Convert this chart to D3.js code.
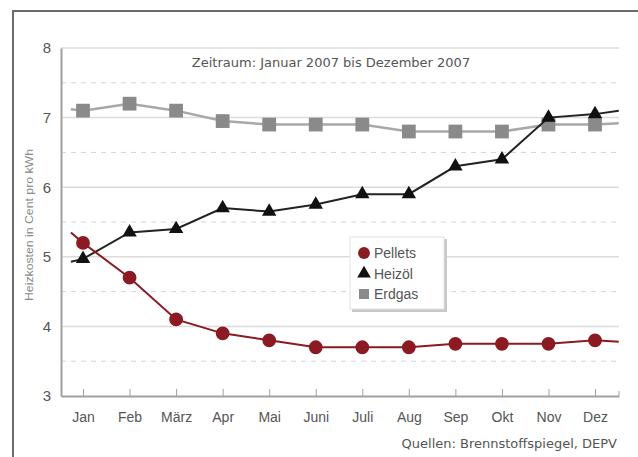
<!DOCTYPE html>
<html>
<head>
<meta charset="utf-8">
<script src="https://cdn.jsdelivr.net/npm/d3@7"></script>
<style>
  body { margin: 0; background: #fff; }
  svg { display: block; }
</style>
</head>
<body>
<div id="chart"></div>
<script>
// data (Cent pro kWh)
const months = ['Jan', 'Feb', 'März', 'Apr', 'Mai', 'Juni', 'Juli', 'Aug', 'Sep', 'Okt', 'Nov', 'Dez'];
const pellets = [5.2, 4.7, 4.1, 3.9, 3.8, 3.7, 3.7, 3.7, 3.75, 3.75, 3.75, 3.8];
const heizoel = [4.97, 5.35, 5.4, 5.7, 5.65, 5.75, 5.9, 5.9, 6.3, 6.4, 7.0, 7.05];
const erdgas = [7.1, 7.2, 7.1, 6.95, 6.9, 6.9, 6.9, 6.8, 6.8, 6.8, 6.9, 6.9];
// line continues a little before Jan and after Dez
const leadIn = {index: -0.26, pellets: 5.35, heizoel: 4.93, erdgas: 7.12};
const leadOut = {index: 11.51, pellets: 3.78, heizoel: 7.1, erdgas: 6.92};
const yTicks = [3, 4, 5, 6, 7, 8];
const yHalfTicks = [3.5, 4.5, 5.5, 6.5, 7.5];

const width = 638, height = 457;
const margin = {top: 48, right: 19, bottom: 61, left: 61};
const innerW = width - margin.left - margin.right;
const innerH = height - margin.top - margin.bottom;

const svg = d3.select('#chart').append('svg')
    .attr('width', width)
    .attr('height', height);

// outer frame (top and left edges only)
svg.append('path')
    .attr('d', `M13,${height}V11H${width}`)
    .attr('fill', 'none')
    .attr('stroke', '#6a6a6a')
    .attr('stroke-width', 2);

const chart = svg.append('g')
    .attr('transform', `translate(${margin.left},${margin.top})`);

const xScale = d3.scaleLinear()
    .domain([-0.473, 11.515])
    .range([0, innerW]);

const yScale = d3.scaleLinear()
    .domain([3, 8])
    .range([innerH, 0]);

// grid
chart.append('g').selectAll('line')
    .data(yTicks.filter(d => d > 3))
    .join('line')
    .attr('x1', 0).attr('x2', innerW)
    .attr('y1', d => yScale(d)).attr('y2', d => yScale(d))
    .attr('stroke', '#dcdcdc')
    .attr('stroke-width', 1.5);

chart.append('g').selectAll('line')
    .data(yHalfTicks)
    .join('line')
    .attr('x1', 0).attr('x2', innerW)
    .attr('y1', d => yScale(d)).attr('y2', d => yScale(d))
    .attr('stroke', '#d4d4d4')
    .attr('stroke-width', 1)
    .attr('stroke-dasharray', '5,5');

// axes
const yAxis = d3.axisLeft(yScale)
    .tickValues(yTicks)
    .tickFormat(d3.format('d'))
    .tickSize(0)
    .tickPadding(10);

const yAxisG = chart.append('g').call(yAxis);
yAxisG.select('.domain').attr('stroke', '#a0a0a0').attr('stroke-width', 2);
yAxisG.selectAll('text')
    .attr('font-family', 'Liberation Sans, Arial, sans-serif')
    .attr('font-size', 15)
    .attr('fill', '#555');

const xAxis = d3.axisBottom(xScale)
    .tickValues(d3.range(months.length))
    .tickFormat(i => months[i])
    .tickSize(-7)
    .tickSizeOuter(0)
    .tickPadding(16);

const xAxisG = chart.append('g')
    .attr('transform', `translate(0,${innerH})`)
    .call(xAxis);
xAxisG.select('.domain').attr('stroke', '#a0a0a0').attr('stroke-width', 2);
xAxisG.selectAll('.tick line').attr('stroke', '#a0a0a0');
xAxisG.selectAll('text')
    .attr('font-family', 'Liberation Sans, Arial, sans-serif')
    .attr('font-size', 14)
    .attr('fill', '#555');
// small tick at the right end of the axis
chart.append('line')
    .attr('x1', innerW).attr('x2', innerW)
    .attr('y1', innerH).attr('y2', innerH - 5)
    .attr('stroke', '#a0a0a0');

// series
const series = [
    {key: 'erdgas', name: 'Erdgas', values: erdgas, line: '#a8a8a8', fill: '#8a8a8a', shape: d3.symbolSquare, size: 190, width: 2.5},
    {key: 'heizoel', name: 'Heizöl', values: heizoel, line: '#222', fill: '#111', shape: d3.symbolTriangle, size: 90, width: 2},
    {key: 'pellets', name: 'Pellets', values: pellets, line: '#8b1a22', fill: '#8b1a22', shape: d3.symbolCircle, size: 150, width: 2}
];

const line = d3.line()
    .x(d => xScale(d.i))
    .y(d => yScale(d.v));

series.forEach(s => {
    const pts = [{i: leadIn.index, v: leadIn[s.key]}]
        .concat(s.values.map((v, i) => ({i, v})))
        .concat([{i: leadOut.index, v: leadOut[s.key]}]);

    chart.append('path')
        .datum(pts)
        .attr('fill', 'none')
        .attr('stroke', s.line)
        .attr('stroke-width', s.width)
        .attr('d', line);

    chart.append('g').selectAll('path')
        .data(s.values)
        .join('path')
        .attr('transform', (d, i) => `translate(${xScale(i)},${yScale(d)})`)
        .attr('d', d3.symbol().type(s.shape).size(s.size))
        .attr('fill', s.fill);
});

// titles
svg.append('text')
    .attr('x', 331).attr('y', 67)
    .attr('text-anchor', 'middle')
    .attr('font-family', 'DejaVu Sans, Verdana, sans-serif')
    .attr('font-size', 13)
    .attr('fill', '#555')
    .text('Zeitraum: Januar 2007 bis Dezember 2007');

svg.append('text')
    .attr('x', 617).attr('y', 448)
    .attr('text-anchor', 'end')
    .attr('font-family', 'DejaVu Sans, Verdana, sans-serif')
    .attr('font-size', 13)
    .attr('fill', '#555')
    .text('Quellen: Brennstoffspiegel, DEPV');

svg.append('text')
    .attr('transform', 'translate(33,225) rotate(-90)')
    .attr('text-anchor', 'middle')
    .attr('font-family', 'Liberation Sans, Arial, sans-serif')
    .attr('font-size', 10)
    .attr('textLength', 152)
    .attr('lengthAdjust', 'spacingAndGlyphs')
    .attr('fill', '#888')
    .text('Heizkosten in Cent pro kWh');

// legend
const legend = svg.append('g').attr('transform', 'translate(350,237)');
legend.append('rect')
    .attr('x', 2).attr('y', 2)
    .attr('width', 95).attr('height', 73)
    .attr('fill', '#c8c8c8');
legend.append('rect')
    .attr('width', 94).attr('height', 72)
    .attr('fill', '#fff')
    .attr('stroke', '#e2e2e2');

const legendItems = series.slice().reverse();
legendItems.forEach((s, i) => {
    const y = 16 + i * 20.5;
    legend.append('path')
        .attr('transform', `translate(14,${y})`)
        .attr('d', d3.symbol().type(s.shape).size(s.shape === d3.symbolSquare ? 100 : s.shape === d3.symbolCircle ? 110 : 80))
        .attr('fill', s.fill);
    legend.append('text')
        .attr('x', 24).attr('y', y + 5)
        .attr('font-family', 'Liberation Sans, Arial, sans-serif')
        .attr('font-size', 14)
        .attr('fill', '#555')
        .text(s.name);
});
</script>
</body>
</html>
